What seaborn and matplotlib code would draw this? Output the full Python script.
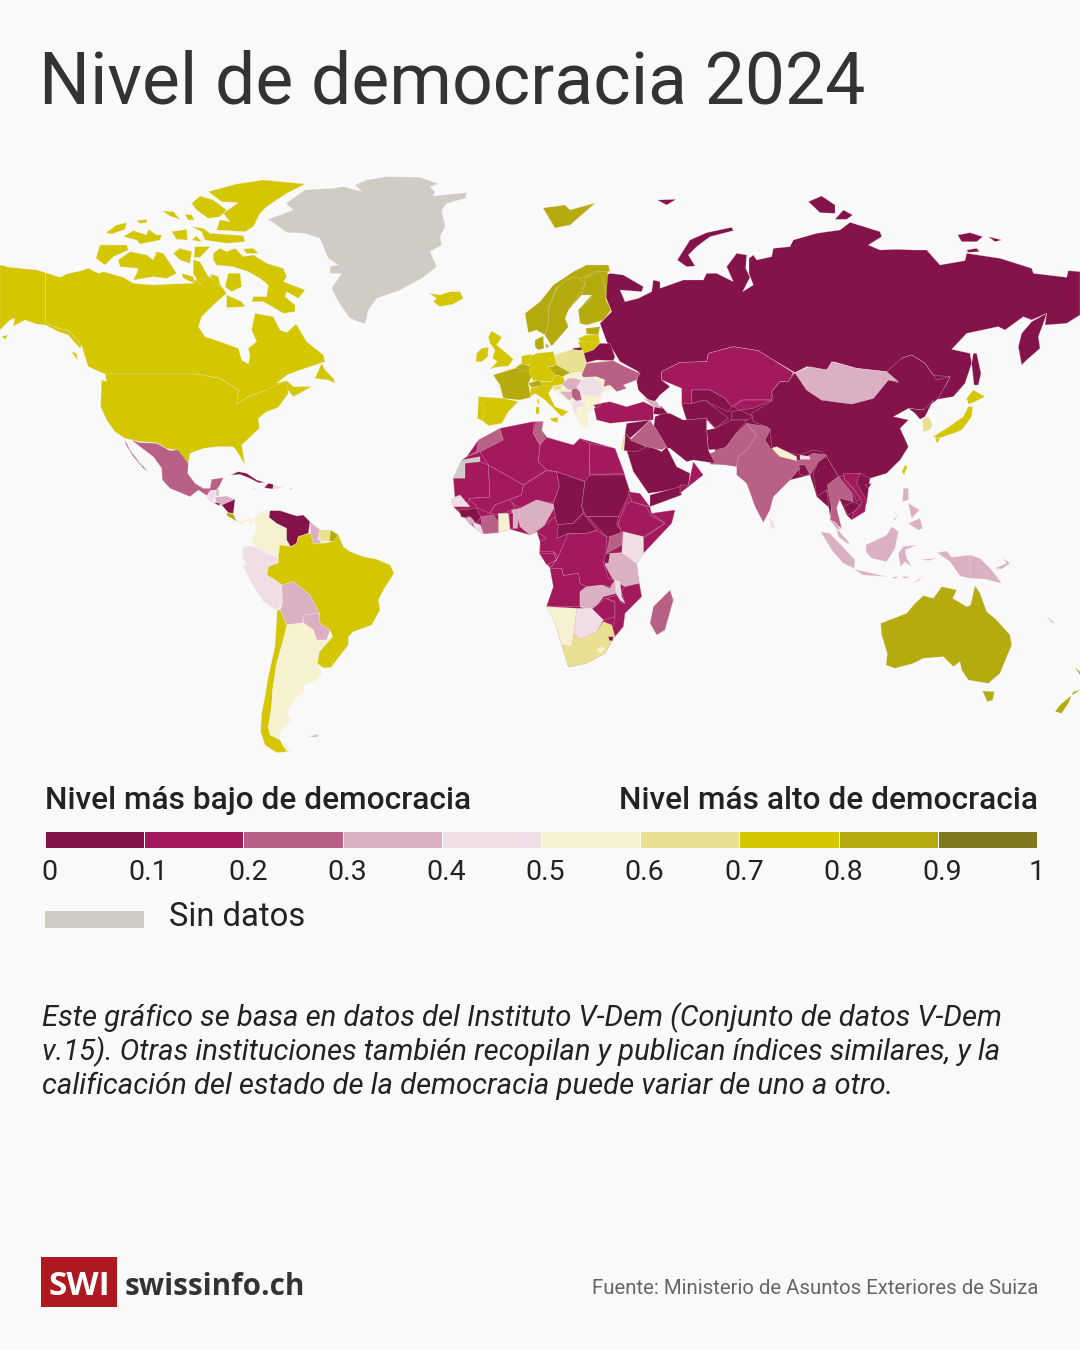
#Democracy level map, swissinfo style
#Country outlines are traced by hand from crops of the map, 3 units = 1 pixel
import matplotlib
matplotlib.use("Agg")
import matplotlib.pyplot as plt
from matplotlib.colors import ListedColormap
from matplotlib.patches import Rectangle
import seaborn as sns
import numpy as np

levels = ["#84134A", "#A2195C", "#B86085", "#DBB0C3", "#F0DEE7",
          "#F6F2D0", "#E9E092", "#D4C600", "#B5AA0E", "#7F7A20"]
no_data = "#CECCC4"
tick_labels = ["0", "0.1", "0.2", "0.3", "0.4", "0.5", "0.6", "0.7", "0.8", "0.9", "1"]
bg = "#F9F9F9"

# (score, outline), score None = no data
north_america = [
    (0.75, [(0,285),(30,292),(110,300),(137,308),(137,458),(175,475),(205,480),(245,525),(240,535),(205,495),(175,485),(137,465),(110,462),(75,450),(40,468),(45,445),(30,450),(0,480)]),
    (0.75, [(137,308),(180,322),(200,312),(245,302),(265,295),(295,310),(310,305),(370,322),(400,340),(460,345),(520,342),(580,340),(600,310),(630,320),(665,350),(680,370),(640,405),(605,440),(595,470),(615,500),(660,515),(715,535),(725,570),(745,582),(750,560),(745,535),(770,515),(755,480),(765,430),(820,440),(840,480),(860,488),(888,462),(920,515),(970,555),(975,575),(900,600),(860,615),(830,640),(860,632),(880,650),(935,650),(880,680),(860,655),(835,660),(800,660),(745,680),(710,703),(715,660),(660,625),(590,612),(315,612),(265,590),(255,560),(245,525),(205,480),(175,475),(137,458)]),
    (0.75, [(945,625),(965,580),(975,600),(1000,625),(1005,640),(985,630)]),
    (0.75, [(315,612),(590,612),(660,625),(715,660),(710,703),(745,680),(800,660),(835,643),(858,635),(865,670),(835,712),(800,725),(775,745),(778,775),(725,825),(735,885),(715,850),(700,830),(650,830),(610,835),(570,850),(565,878),(550,870),(525,840),(500,835),(470,818),(420,815),(375,805),(345,785),(320,750),(302,710),(305,630),(320,635)]),
    # arctic islands
    (0.75, [(640,250),(660,235),(680,245),(705,235),(730,260),(760,255),(800,280),(850,295),(860,320),(850,335),(915,360),(895,385),(860,365),(855,380),(885,405),(885,425),(850,430),(820,412),(790,395),(755,395),(760,380),(800,380),(805,345),(780,325),(745,305),(700,290),(650,285),(640,270)]),
    (0.75, [(625,65),(710,42),(790,30),(915,42),(860,70),(800,110),(780,130),(760,170),(735,185),(650,180),(660,150),(690,155),(670,130),(715,98),(665,95)]),
    (0.75, [(575,100),(600,78),(640,90),(680,120),(660,140),(625,145),(590,120)]),
    (0.75, [(575,170),(610,175),(630,190),(730,197),(735,215),(680,220),(615,210),(605,185)]),
    (0.75, [(355,270),(390,245),(440,255),(460,270),(470,245),(490,250),(530,310),(500,325),(460,320),(400,330),(410,310),(415,295),(360,290)]),
    (0.75, [(300,225),(380,225),(385,240),(340,260),(315,285),(288,265)]),
    (0.75, [(370,200),(400,182),(440,195),(445,178),(470,195),(485,195),(480,210),(420,222),(410,210)]),
    (0.75, [(318,188),(350,165),(380,158),(375,178),(335,192)]),
    (0.75, [(410,152),(440,148),(440,158),(420,160)]),
    (0.75, [(488,123),(520,125),(540,148),(510,138)]),
    (0.75, [(555,133),(575,135),(583,150),(565,150)]),
    (0.75, [(515,185),(560,178),(562,210),(530,208)]),
    (0.75, [(575,210),(590,198),(605,215)]),
    (0.75, [(520,250),(540,235),(575,245),(570,280),(540,270)]),
    (0.75, [(585,230),(630,230),(600,262),(582,262)]),
    (0.75, [(730,237),(760,235),(775,250),(740,250)]),
    (0.75, [(685,310),(720,310),(725,350),(695,365),(675,350)]),
    (0.75, [(580,270),(600,275),(625,320),(600,345),(580,310)]),
    (0.75, [(630,312),(655,320),(662,350),(640,335)]),
    (0.75, [(680,375),(725,395),(735,410),(680,413)]),
    (0.75, [(545,310),(580,320),(585,340),(550,325)]),
    (0.75, [(215,545),(230,550),(232,570)]),
    (0.75, [(5,500),(25,495),(15,508)]),
    (None, [(1065,45),(1100,30),(1160,20),(1260,22),(1315,42),(1290,50),(1305,65),(1300,78),(1400,68),(1395,85),(1340,100),(1325,120),(1335,170),(1320,200),(1325,225),(1290,245),(1310,290),(1265,325),(1200,360),(1130,385),(1105,420),(1095,462),(1050,445),(1015,395),(995,355),(1025,310),(990,310),(990,290),(1015,285),(985,265),(960,205),(915,190),(860,187),(830,165),(805,148),(880,120),(858,100),(915,60),(1000,55),(1030,50),(1085,65)]),
    (0.75, [(1288,370),(1320,375),(1350,365),(1380,365),(1390,385),(1360,402),(1320,410),(1300,395),(1310,385)]),
    (0.85, [(1629,114),(1695,105),(1710,120),(1785,99),(1755,126),(1710,165),(1665,174)]),
]

latin_america = [
    (0.25, [(35,0),(60,8),(110,10),(150,32),(175,30),(205,70),(203,100),(225,130),(250,145),(270,145),(275,118),(310,113),(300,135),(290,150),(272,152),(265,170),(235,150),(210,170),(150,145),(127,120),(125,85),(100,50),(60,20)]),
    (0.25, [(15,0),(30,30),(60,70),(85,95),(70,85),(40,50),(18,15)]),
    (0.05, [(332,105),(355,95),(380,100),(410,120),(435,128),(415,128),(390,115),(360,103)]),
    (0.05, [(433,143),(445,130),(460,133),(458,147)]),
    (0.45, [(460,133),(490,143),(460,147)]),
    (0.65, [(395,145),(412,147),(403,150)]),
    (None, [(505,145),(518,145),(515,149)]),
    (0.45, [(258,170),(270,152),(287,152),(287,170),(275,190)]),
    (None, [(288,150),(298,148),(296,168),(288,168)]),
    (0.35, [(285,172),(320,168),(345,178),(305,195),(290,190)]),
    (0.05, [(305,195),(345,178),(340,220),(325,218)]),
    (0.05, [(280,187),(300,190),(297,197)]),
    (0.85, [(320,218),(340,222),(350,245),(335,235),(322,228)]),
    (0.55, [(350,240),(365,245),(385,235),(400,240),(395,252),(375,243),(365,255)]),
    (0.55, [(395,310),(410,260),(400,235),(425,215),(450,212),(445,235),(470,250),(500,265),(500,300),(515,320),(480,315),(475,350),(440,335),(420,328)]),
    (0.05, [(447,232),(450,212),(480,212),(530,228),(550,225),(570,245),(565,280),(535,290),(530,310),(512,320),(500,300),(500,265),(470,250)]),
    (0.35, [(570,245),(600,270),(593,295),(605,310),(580,312),(572,280)]),
    (0.65, [(600,270),(632,270),(628,303),(605,305),(595,295)]),
    (0.85, [(632,270),(655,285),(640,305),(628,303)]),
    (0.75, [(480,315),(515,320),(530,310),(535,290),(572,280),(580,312),(605,310),(640,305),(655,285),(670,320),(690,335),(730,350),(770,358),(810,375),(822,400),(790,450),(775,480),(780,510),(755,555),(700,575),(685,590),(685,615),(650,660),(635,680),(610,683),(592,670),(598,635),(638,590),(630,570),(600,550),(598,520),(570,465),(520,425),(485,435),(465,420),(440,405),(445,380),(475,368),(475,350)]),
    (0.75, [(598,635),(640,655),(635,682),(610,683),(592,670)]),
    (0.45, [(370,320),(395,318),(425,332),(410,365),(380,375),(368,350)]),
    (0.45, [(368,375),(380,375),(410,365),(425,332),(470,352),(475,368),(445,380),(440,405),(465,420),(485,435),(488,490),(470,510),(430,485),(395,430)]),
    (0.35, [(485,435),(520,425),(570,465),(598,520),(550,525),(548,548),(500,555),(480,510),(488,490)]),
    (0.35, [(550,525),(598,520),(600,550),(630,570),(620,600),(590,600),(580,570),(550,548)]),
    (0.75, [(472,510),(480,510),(502,560),(490,600),(470,670),(458,750),(455,800),(445,860),(450,885),(480,900),(490,920),(505,935),(470,938),(435,915),(422,875),(425,820),(435,770),(445,710),(465,620)]),
    (0.55, [(500,555),(548,548),(580,570),(590,600),(620,600),(638,590),(598,635),(592,670),(605,700),(590,720),(550,735),(550,755),(525,775),(500,820),(515,840),(480,875),(480,895),(450,885),(445,860),(455,800),(458,750),(470,670),(490,600)]),
    (0.55, [(490,905),(505,925),(520,930),(500,935)]),
    (None, [(565,890),(595,882),(592,892)]),
]

europe = [
    # backing so that no gaps show between neighbours
    (0.85, [(315,225),(325,145),(380,60),(440,15),(505,15),(498,120),(513,150),(490,180),(440,195),(415,150),(455,105),(425,105),(385,150),(375,175),(385,200),(355,235),(335,258)]),
    (0.55, [(160,345),(245,310),(272,288),(345,285),(430,272),(520,302),(600,340),(550,375),(490,395),(470,440),(440,458),(445,505),(410,470),(395,430),(345,378),(272,412),(190,415)]),
    (0.85, [(255,160),(300,125),(340,75),(400,35),(440,15),(505,15),(510,35),(470,35),(435,50),(380,65),(350,85),(325,145),(325,195),(315,225),(290,210),(265,218)]),
    (0.85, [(325,195),(325,145),(350,85),(380,60),(410,50),(435,70),(410,115),(385,150),(375,175),(385,200),(355,235),(335,258),(315,225)]),
    (0.85, [(435,55),(470,35),(490,50),(495,95),(498,120),(513,150),(490,180),(440,195),(420,190),(415,150),(450,120),(455,105),(425,105),(435,70)]),
    (0.85, [(437,205),(480,200),(475,225),(440,222)]),
    (0.75, [(415,235),(440,225),(475,225),(480,250),(455,248),(420,245)]),
    (0.75, [(415,245),(440,245),(480,250),(460,270),(430,280),(420,262)]),
    (0.05, [(398,265),(425,262),(425,272),(400,272)]),
    (0.05, [(430,280),(460,270),(480,250),(510,250),(525,290),(520,302),(470,300),(440,308)]),
    (0.65, [(345,285),(395,268),(430,272),(438,310),(440,340),(415,335),(375,345),(348,315)]),
    (0.75, [(145,230),(155,213),(185,232),(170,255),(200,280),(220,298),(205,318),(165,322),(150,328),(172,305),(158,295),(165,270),(150,250)]),
    (0.75, [(110,280),(125,265),(145,262),(143,290),(125,305),(108,305)]),
    (0.85, [(160,345),(225,325),(245,310),(280,340),(265,370),(272,412),(240,420),(190,415),(180,375)]),
    (0.75, [(115,410),(190,415),(235,425),(205,455),(185,490),(145,497),(125,480),(130,440),(115,435)]),
    (0.75, [(115,430),(130,430),(135,460),(125,482),(112,475)]),
    (0.75, [(245,288),(275,283),(270,315),(245,312)]),
    (0.85, [(228,322),(250,312),(270,318),(268,335),(250,335)]),
    (0.75, [(290,280),(340,275),(350,315),(325,320),(345,345),(335,365),(280,362),(268,340),(268,320),(272,288)]),
    (0.85, [(285,240),(310,228),(312,265),(295,270),(285,260)]),
    (0.85, [(315,250),(328,258),(320,265)]),
    (0.85, [(325,322),(350,315),(390,338),(370,350),(345,345)]),
    (0.75, [(280,365),(335,365),(345,345),(370,350),(375,370),(340,378),(300,380)]),
    (0.85, [(265,370),(300,360),(305,378),(275,382)]),
    (0.75, [(272,385),(300,378),(340,378),(325,400),(345,440),(385,455),(365,470),(355,460),(315,420),(285,400),(270,410)]),
    (0.75, [(330,475),(355,472),(352,488),(335,482)]),
    (0.75, [(287,440),(298,440),(298,462),(287,462)]),
    (0.75, [(290,418),(298,418),(296,435)]),
    (0.65, [(340,378),(365,375),(362,388),(340,390)]),
    (0.55, [(340,390),(385,390),(395,395),(365,398),(395,430),(360,405)]),
    (0.35, [(360,395),(395,395),(395,418),(385,420)]),
    (0.25, [(395,380),(418,385),(425,420),(410,425),(395,410)]),
    (0.35, [(365,372),(390,352),(425,360),(410,385),(385,390)]),
    (0.55, [(375,345),(415,338),(428,350),(390,355),(370,352)]),
    (0.45, [(425,360),(455,352),(480,365),(490,395),(470,408),(430,405),(410,385)]),
    (0.55, [(470,350),(495,360),(495,385),(480,365)]),
    (0.55, [(430,408),(470,408),(480,420),(475,432),(435,438),(425,420)]),
    (0.55, [(405,445),(440,445),(470,440),(440,458),(430,480),(445,505),(425,500),(410,470)]),
    (0.45, [(395,425),(425,420),(435,438),(405,445),(412,470),(400,450)]),
    (0.25, [(440,310),(520,302),(555,320),(600,340),(590,360),(550,375),(560,385),(530,395),(510,375),(490,380),(495,360),(470,350),(430,352),(425,345)]),
    (0.15, [(462,445),(480,430),(510,425),(560,440),(610,425),(640,440),(640,480),(560,485),(510,490),(470,480)]),
    (0.15, [(460,435),(485,430),(470,445)]),
    (0.35, [(610,415),(650,425),(665,445),(640,440)]),
    (0.05, [(560,490),(630,480),(610,500),(570,535),(555,520)]),
    (0.05, [(555,520),(570,535),(620,560),(590,575),(552,572)]),
    (0.25, [(630,480),(650,510),(680,560),(665,570),(620,560),(570,540),(610,500)]),
    (0.65, [(550,530),(556,530),(549,570),(543,570)]),
]

africa = [
    # backing so that no gaps show between neighbours
    (0.15, [(40,205),(65,150),(80,140),(115,90),(180,55),(280,35),(310,35),(305,60),(320,82),(400,105),(420,85),(525,115),(553,190),(570,245),(630,290),(635,310),(705,300),(695,340),(610,430),(590,462),(598,520),(605,560),(555,610),(550,650),(525,680),(495,730),(440,760),(385,772),(365,705),(345,640),(320,588),(340,530),(330,475),(298,430),(300,395),(290,365),(270,375),(210,358),(175,368),(130,372),(105,355),(75,325),(40,290),(35,265),(45,265)]),
    (0.25, [(80,140),(110,125),(115,90),(180,55),(190,90),(120,125)]),
    (None, [(40,205),(65,150),(120,140),(120,155),(75,160),(75,205)]),
    (0.15, [(120,125),(190,90),(180,55),(280,35),(280,70),(300,105),(295,155),(320,180),(250,225),(145,165)]),
    (0.25, [(288,35),(310,35),(305,60),(315,85),(300,105),(280,70)]),
    (0.15, [(300,105),(320,82),(400,105),(420,85),(448,100),(450,220),(435,215),(350,185),(320,180),(295,155)]),
    (0.15, [(448,100),(525,115),(553,190),(450,195)]),
    (0.15, [(40,205),(75,205),(75,160),(120,155),(145,165),(150,262),(90,265),(80,285),(45,265)]),
    (0.15, [(145,165),(250,225),(245,255),(210,268),(165,285),(150,310),(115,295),(85,265),(150,262)]),
    (0.15, [(250,225),(320,182),(350,185),(358,230),(340,280),(290,270),(240,295),(205,270),(245,255)]),
    (0.15, [(165,285),(210,268),(225,295),(180,315),(150,310)]),
    (0.35, [(240,295),(290,270),(348,285),(310,350),(270,375),(240,350),(232,310)]),
    (0.35, [(215,300),(240,295),(232,355),(220,355)]),
    (0.15, [(208,310),(218,310),(218,358),(210,358)]),
    (0.55, [(175,310),(205,310),(210,358),(175,368)]),
    (0.25, [(122,320),(160,315),(175,335),(175,365),(130,372)]),
    (0.45, [(95,335),(122,345),(130,372),(105,355)]),
    (0.35, [(75,325),(95,318),(102,335),(90,345)]),
    (0.05, [(55,300),(110,295),(122,320),(110,340),(90,320),(65,322)]),
    (0.45, [(35,265),(60,255),(90,290),(40,290)]),
    (0.05, [(350,185),(435,215),(425,290),(430,308),(400,340),(350,345),(340,280),(358,230)]),
    (0.05, [(450,195),(553,195),(570,245),(555,280),(535,320),(490,320),(440,320),(425,290),(435,215)]),
    (0.05, [(445,320),(535,320),(530,345),(555,375),(500,380),(470,350)]),
    (0.05, [(345,345),(400,340),(430,310),(470,360),(440,370),(390,370),(350,385)]),
    (0.15, [(565,245),(600,250),(630,290),(575,275)]),
    (0.15, [(535,340),(560,280),(575,275),(620,290),(630,315),(675,340),(610,380),(545,370)]),
    (0.15, [(635,310),(705,300),(695,340),(610,430),(610,385),(675,340)]),
    (0.45, [(550,365),(610,380),(610,430),(590,462),(545,430)]),
    (0.25, [(510,380),(550,365),(545,405),(500,430)]),
    (0.35, [(510,430),(545,428),(590,462),(598,520),(555,530),(520,510),(495,465)]),
    (0.05, [(490,432),(510,432),(505,460),(492,458)]),
    (0.15, [(380,372),(440,370),(470,362),(500,380),(498,430),(490,460),(505,505),(525,510),(510,530),(485,525),(445,535),(420,520),(415,490),(370,497),(365,475),(330,475),(355,440)]),
    (0.15, [(345,320),(355,350),(350,385),(385,370),(355,440),(340,425),(300,425),(300,395),(320,385),(290,365)]),
    (0.15, [(298,430),(340,430),(350,450),(320,465)]),
    (0.15, [(340,425),(355,440),(335,470),(320,465),(350,450)]),
    (0.15, [(330,475),(365,475),(370,497),(415,490),(420,520),(440,530),(420,545),(420,590),(320,588),(340,530)]),
    (0.35, [(420,545),(440,530),(485,525),(510,535),(525,510),(530,550),(490,560),(465,595),(435,598),(420,590)]),
    (0.45, [(525,510),(540,515),(545,560),(555,580),(540,570),(528,550)]),
    (0.15, [(455,598),(495,565),(525,575),(525,620),(490,630)]),
    (0.15, [(555,530),(598,520),(605,560),(555,610),(550,650),(525,680),(515,670),(525,620),(525,575),(500,565),(530,555),(545,580),(555,580),(545,545)]),
    (0.55, [(320,590),(410,595),(402,670),(395,710),(365,705),(345,640)]),
    (0.45, [(410,595),(455,595),(490,630),(470,665),(420,688),(402,670)]),
    (0.65, [(365,705),(395,710),(402,670),(420,688),(470,665),(490,635),(515,645),(525,680),(495,730),(440,760),(385,772)]),
    (0.55, [(470,720),(485,708),(495,718),(480,730)]),
    (0.05, [(505,680),(520,680),(518,692),(508,692)]),
    (0.25, [(690,540),(700,570),(675,660),(650,675),(630,640),(640,590)]),
]

asia = [
    (0.05, [(30,250),(70,255),(130,290),(125,305),(60,300),(75,335),(115,325),(155,305),(160,270),(180,275),(180,295),(250,270),(310,270),(320,250),(350,250),(400,275),(380,230),(410,190),(440,195),(437,235),(450,262),(428,305),(460,285),(447,250),(447,205),(460,195),(470,210),(515,200),(520,175),(570,170),(580,150),(650,130),(720,120),(750,97),(840,125),(845,140),(805,165),(840,180),(890,178),(940,180),(980,180),(1020,225),(1095,212),(1100,190),(1200,205),(1295,235),(1300,250),(1400,262),(1405,242),(1440,245),(1440,375),(1400,400),(1335,405),(1340,370),(1295,390),(1270,380),(1215,420),(1195,410),(1100,430),(1055,478),(1110,490),(1115,520),(1095,580),(1060,620),(1000,630),(1035,590),(1050,560),(1010,570),(975,520),(935,495),(905,505),(895,540),(860,545),(770,535),(700,515),(680,540),(620,530),(585,548),(520,510),(475,482),(400,470),(325,490),(320,515),(240,517),(185,545),(185,570),(210,590),(180,615),(160,640),(140,625),(115,600),(110,575),(115,545),(60,515),(45,490),(20,455),(0,400),(35,365),(15,315),(5,262)]),
    # backing so that no gaps show between neighbours
    (0.05, [(245,640),(275,600),(515,605),(585,548),(860,545),(1050,560),(1010,630),(925,655),(880,680),(925,690),(900,715),(925,770),(900,810),(810,865),(800,940),(755,990),(740,975),(720,930),(695,960),(650,920),(630,855),(570,870),(520,920),(490,997),(440,880),(410,830),(345,820),(345,715),(320,690),(260,690)]),
    (0.05, [(232,210),(270,150),(320,128),(395,112),(400,122),(330,140),(290,170),(265,195),(285,228),(260,230)]),
    (0.05, [(625,35),(665,18),(705,45),(705,70),(660,68)]),
    (0.05, [(705,88),(730,60),(758,75),(740,88)]),
    (0.05, [(1073,135),(1110,128),(1148,140),(1130,155),(1085,155)]),
    (0.05, [(1165,140),(1205,150),(1185,155)]),
    (0.05, [(1100,180),(1130,175),(1138,185),(1105,187)]),
    (0.05, [(172,30),(228,28),(200,45)]),
    (0.05, [(1340,370),(1330,400),(1315,440),(1320,475),(1280,510),(1265,525),(1255,470),(1265,430),(1295,395)]),
    (0.05, [(1120,490),(1130,490),(1143,550),(1135,585),(1122,585),(1115,520)]),
    (0.15, [(185,545),(240,517),(320,515),(325,490),(400,470),(475,482),(520,510),(580,548),(565,575),(540,575),(515,605),(515,630),(455,630),(425,630),(395,650),(375,625),(330,600),(275,600),(275,640),(245,640),(245,595),(185,570)]),
    (0.05, [(275,600),(330,600),(375,625),(395,650),(385,665),(330,640),(315,630),(275,640)]),
    (0.05, [(245,640),(275,640),(315,630),(385,685),(345,715),(320,685),(260,690),(250,660)]),
    (0.05, [(395,665),(420,660),(460,680),(440,690),(395,690)]),
    (0.15, [(400,650),(430,630),(515,630),(460,655),(420,660)]),
    (0.05, [(455,670),(520,630),(515,605),(540,575),(565,575),(585,548),(620,600),(665,630),(755,642),(820,625),(865,570),(895,578),(860,545),(905,505),(935,495),(975,520),(1010,570),(1050,560),(1035,590),(1010,630),(970,660),(925,655),(880,680),(925,690),(900,715),(925,770),(900,810),(860,850),(810,865),(780,850),(735,860),(715,860),(680,800),(665,785),(640,780),(595,795),(515,770),(510,715),(460,695)]),
    (0.35, [(585,548),(630,530),(680,540),(695,515),(770,535),(860,545),(895,575),(865,570),(820,625),(755,642),(665,630),(620,600)]),
    (0.05, [(925,655),(970,660),(1000,630),(975,680),(960,688),(945,670)]),
    (0.65, [(967,690),(985,680),(998,705),(990,720),(970,725)]),
    (0.75, [(1000,740),(1040,715),(1090,680),(1105,650),(1118,650),(1115,680),(1085,720),(1060,730),(1015,745)]),
    (0.75, [(1005,745),(1020,745),(1012,760)]),
    (0.75, [(1100,625),(1120,600),(1155,620),(1125,635),(1105,642)]),
    (0.75, [(915,825),(922,830),(912,855),(906,845)]),
    (0.05, [(320,720),(345,715),(395,690),(440,690),(405,735),(375,775),(325,780)]),
    (0.25, [(330,790),(380,770),(405,735),(440,700),(470,735),(460,750),(440,780),(415,800),(410,830),(380,825),(330,823)]),
    (0.25, [(440,700),(500,710),(510,720),(495,750),(515,780),(590,810),(600,810),(640,790),(680,795),(655,815),(630,855),(610,835),(595,840),(570,870),(520,920),(510,960),(490,997),(465,950),(440,880),(410,855),(410,830),(415,800),(440,780),(460,750),(470,735)]),
    (0.55, [(515,775),(530,770),(590,800),(590,812),(540,800)]),
    (0.45, [(600,795),(630,800),(630,808),(600,808)]),
    (0.05, [(597,825),(615,825),(630,855),(600,855)]),
    (0.05, [(640,850),(655,815),(680,800),(715,860),(682,900),(695,960),(690,980),(680,900),(650,920)]),
    (0.25, [(682,885),(715,860),(755,910),(760,935),(720,925),(710,955),(725,1015),(690,990),(695,950)]),
    (0.15, [(715,860),(735,855),(735,870),(785,925),(770,935),(755,905)]),
    (0.15, [(730,850),(780,850),(770,880),(800,930),(795,965),(755,990),(762,965),(780,950),(785,930),(755,890),(735,870)]),
    (0.05, [(730,950),(760,935),(780,945),(762,965),(745,975)]),
    (0.05, [(795,885),(815,880),(805,895)]),
    (0.45, [(510,985),(522,1000),(525,1015),(512,1015)]),
    (0.05, [(160,672),(165,645),(185,650),(205,672),(190,675)]),
    (0.05, [(165,680),(190,670),(210,670),(250,690),(320,685),(320,720),(325,780),(345,820),(280,810),(260,815),(210,775),(180,770),(160,720)]),
    (0.05, [(75,765),(125,755),(185,785),(200,770),(230,830),(270,850),(265,890),(180,905),(145,910),(100,845)]),
    (0.05, [(150,915),(240,890),(245,915),(150,950)]),
    (0.15, [(240,885),(265,885),(280,815),(310,855),(240,910)]),
]

oceania = [
    (0.35, [(150,150),(165,155),(185,180),(168,175)]),
    (0.35, [(122,185),(150,190),(225,270),(222,295),(190,280),(155,240)]),
    (0.35, [(170,175),(205,215),(208,225),(175,200)]),
    (0.35, [(222,298),(255,305),(320,320),(250,315)]),
    (0.35, [(258,225),(320,195),(335,170),(355,185),(345,235),(320,275),(275,265),(258,245)]),
    (0.35, [(355,250),(370,230),(410,225),(375,240),(380,265),(395,290),(375,275),(362,290)]),
    (0.35, [(370,55),(385,55),(385,90),(368,95)]),
    (0.35, [(385,160),(420,145),(428,175),(415,180)]),
    (0.35, [(385,100),(418,120),(395,145)]),
    (0.35, [(340,150),(358,130),(345,150)]),
    (0.35, [(472,248),(500,243),(515,262),(570,255),(570,325),(540,318),(510,275)]),
    (0.35, [(570,255),(600,265),(635,300),(665,340),(620,328),(570,325)]),
    (0.35, [(400,338),(430,320),(415,332)]),
    (0.35, [(335,322),(355,320),(345,326)]),
    (0.35, [(365,320),(390,320),(375,325)]),
    (0.35, [(425,268),(470,265),(445,272)]),
    (0.35, [(645,295),(680,280),(670,265),(690,280),(665,297)]),
    (None, [(800,440),(825,458),(815,458)]),
    (0.85, [(302,460),(380,430),(405,400),(430,377),(460,385),(485,350),(530,360),(518,385),(560,410),(572,405),(585,347),(600,370),(620,425),(650,450),(690,495),(695,525),(660,610),(625,640),(565,630),(545,600),(540,575),(520,590),(490,560),(430,565),(400,580),(345,595),(318,585),(322,550),(305,495)]),
    (0.85, [(608,663),(643,665),(638,690),(622,695)]),
    (0.85, [(900,660),(880,665),(865,700),(845,730),(825,725),(840,705),(870,680)]),
    (0.85, [(885,592),(900,605),(900,615)]),
]

sns.set_theme(style="white", rc={"figure.facecolor": bg, "axes.facecolor": bg})
plt.rcParams["font.family"] = ["Roboto", "DejaVu Sans"]

fig = plt.figure(figsize=(10.8, 13.5), dpi=100)
ax = fig.add_axes([0, 0, 1, 1])
ax.set_xlim(0, 1080)
ax.set_ylim(1350, 0)
ax.axis("off")


def draw_region(shapes, x0, y0):
    for score, outline in shapes:
        pts = np.array(outline) / 3 + [x0, y0]
        color = no_data if score is None else levels[int(score * 10)]
        ax.fill(pts[:, 0], pts[:, 1], facecolor=color, edgecolor=(0.97, 0.93, 0.94, 0.45),
                lw=0.35, joinstyle="round")


draw_region(north_america, 0, 170)
draw_region(asia, 600, 190)
draw_region(latin_america, 120, 440)
draw_region(europe, 440, 260)
draw_region(africa, 440, 410)
draw_region(oceania, 780, 470)

# title
ax.text(39, 104, "Nivel de democracia 2024", fontsize=51.5, color="#333333", va="baseline")

# legend
ink = "#222222"
ax.text(45, 809, "Nivel más bajo de democracia", fontsize=22.8, fontweight="medium", color=ink, va="baseline")
ax.text(1038, 809, "Nivel más alto de democracia", fontsize=22.8, fontweight="medium", color=ink, va="baseline", ha="right")

bar_ax = fig.add_axes([45 / 1080, 1 - 848 / 1350, 992 / 1080, 17 / 1350])
sns.heatmap(np.arange(10).reshape(1, 10), ax=bar_ax, cmap=ListedColormap(levels), cbar=False,
            linewidths=0.5, linecolor=bg, xticklabels=False, yticklabels=False)
tick_pos = np.arange(11) + 0.045
tick_pos[-1] = 10
bar_ax.set_xticks(tick_pos)
bar_ax.set_xticklabels(tick_labels, fontsize=20.5, color=ink)
bar_ax.tick_params(axis="x", length=0, pad=8)

ax.add_patch(Rectangle((45, 911), 99, 17, facecolor=no_data, edgecolor="none"))
ax.text(169, 926, "Sin datos", fontsize=23.6, color=ink, va="baseline")

# note
note = ["Este gráfico se basa en datos del Instituto V-Dem (Conjunto de datos V-Dem",
        "v.15). Otras instituciones también recopilan y publican índices similares, y la",
        "calificación del estado de la democracia puede variar de uno a otro."]
for y, line in zip([1026, 1060, 1094], note):
    ax.text(42, y, line, fontsize=21.1, style="italic", color=ink, va="baseline")

# footer
ax.add_patch(Rectangle((41, 1257), 76, 50, facecolor="#B01820", edgecolor="none"))
ax.text(79, 1295, "SWI", fontsize=24, fontweight="bold", color="white", ha="center", va="baseline",
        family="Open Sans")
ax.text(125, 1295, "swissinfo.ch", fontsize=21.3, fontweight="bold", color="#333333", va="baseline",
        family="Open Sans")
ax.text(1038, 1294, "Fuente: Ministerio de Asuntos Exteriores de Suiza", fontsize=14.65, color="#666666",
        ha="right", va="baseline")

fig.savefig("out.png", dpi=100, facecolor=bg)
